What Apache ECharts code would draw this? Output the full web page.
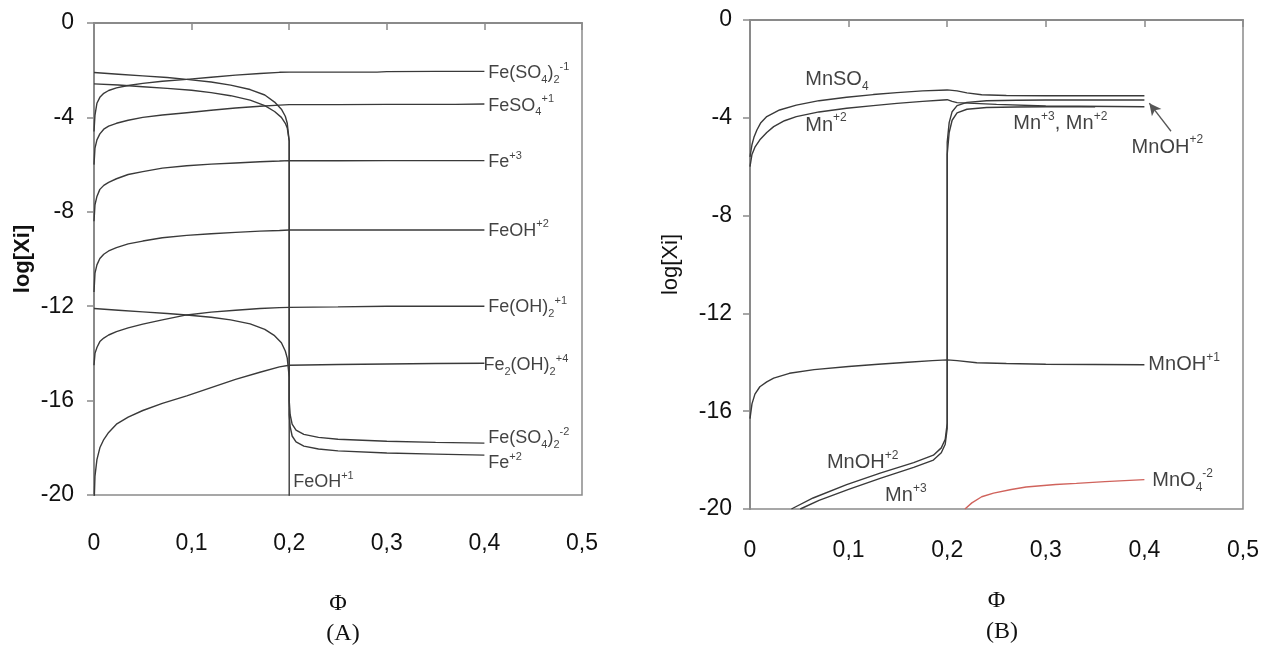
<!DOCTYPE html>
<html>
<head>
<meta charset="utf-8">
<script src="https://cdn.jsdelivr.net/npm/echarts@6/dist/echarts.min.js"></script>
<style>
html,body{margin:0;padding:0;background:#fff;}
#chart{width:1269px;height:648px;}
</style>
</head>
<body>
<div id="chart"></div>
<script>
// ---------- Panel A (Fe species) : [phi, log Xi] ----------
const feSO42m1 = [[0,-4.6],[0.001,-3.9],[0.003,-3.4],[0.006,-3.15],[0.01,-2.98],[0.015,-2.86],[0.023,-2.75],[0.035,-2.65],[0.05,-2.56],[0.07,-2.47],[0.095,-2.39],[0.12,-2.3],[0.145,-2.21],[0.17,-2.14],[0.19,-2.09],[0.2,-2.08],[0.25,-2.08],[0.29,-2.08],[0.3,-2.06],[0.35,-2.05],[0.4,-2.05]];
const feSO4p1 = [[0,-6.0],[0.001,-5.3],[0.003,-4.95],[0.006,-4.7],[0.01,-4.5],[0.015,-4.37],[0.023,-4.25],[0.035,-4.12],[0.05,-4.0],[0.07,-3.9],[0.095,-3.8],[0.12,-3.7],[0.145,-3.6],[0.17,-3.53],[0.19,-3.48],[0.2,-3.46],[0.25,-3.46],[0.3,-3.45],[0.37,-3.45],[0.4,-3.43]];
const fe3 = [[0,-8.4],[0.001,-7.7],[0.003,-7.35],[0.006,-7.05],[0.01,-6.88],[0.015,-6.75],[0.023,-6.6],[0.035,-6.42],[0.05,-6.3],[0.07,-6.15],[0.095,-6.05],[0.12,-5.98],[0.145,-5.93],[0.17,-5.88],[0.19,-5.85],[0.2,-5.83],[0.25,-5.84],[0.3,-5.83],[0.35,-5.83],[0.4,-5.83]];
const feOHp2 = [[0,-11.4],[0.001,-10.6],[0.003,-10.25],[0.006,-9.98],[0.01,-9.8],[0.015,-9.66],[0.023,-9.52],[0.035,-9.36],[0.05,-9.24],[0.07,-9.1],[0.095,-9.0],[0.12,-8.93],[0.145,-8.87],[0.17,-8.82],[0.19,-8.79],[0.2,-8.77],[0.25,-8.77],[0.3,-8.77],[0.35,-8.77],[0.4,-8.77]];
const feOH2p1 = [[0,-14.5],[0.001,-14.0],[0.003,-13.75],[0.006,-13.5],[0.01,-13.35],[0.015,-13.22],[0.023,-13.08],[0.035,-12.92],[0.05,-12.76],[0.07,-12.58],[0.095,-12.37],[0.12,-12.25],[0.145,-12.17],[0.17,-12.1],[0.19,-12.06],[0.2,-12.05],[0.25,-12.03],[0.3,-12.0],[0.35,-12.0],[0.4,-12.0]];
const fe2OH2p4 = [[0,-20.5],[0.001,-19.2],[0.003,-18.5],[0.006,-18.0],[0.01,-17.65],[0.015,-17.35],[0.023,-17.0],[0.035,-16.7],[0.05,-16.42],[0.07,-16.12],[0.095,-15.8],[0.12,-15.45],[0.145,-15.1],[0.17,-14.8],[0.19,-14.57],[0.2,-14.5],[0.25,-14.47],[0.3,-14.45],[0.35,-14.43],[0.4,-14.42]];
const feOHp1 = [[0,-12.1],[0.025,-12.17],[0.05,-12.24],[0.075,-12.31],[0.095,-12.37],[0.12,-12.47],[0.14,-12.58],[0.16,-12.75],[0.175,-12.98],[0.185,-13.25],[0.192,-13.55],[0.196,-13.9],[0.198,-14.2],[0.2,-15.0],[0.2,-21]];
const feSO42m2 = [[0,-2.1],[0.025,-2.17],[0.05,-2.24],[0.075,-2.31],[0.095,-2.39],[0.12,-2.5],[0.14,-2.63],[0.16,-2.82],[0.175,-3.05],[0.185,-3.35],[0.192,-3.65],[0.196,-3.95],[0.198,-4.25],[0.2,-5.0],[0.2,-16.0],[0.201,-16.6],[0.203,-17.0],[0.207,-17.25],[0.215,-17.43],[0.23,-17.56],[0.25,-17.64],[0.3,-17.72],[0.35,-17.77],[0.4,-17.8]];
const fe2 = [[0,-2.58],[0.025,-2.63],[0.05,-2.7],[0.075,-2.77],[0.1,-2.85],[0.12,-2.95],[0.14,-3.08],[0.16,-3.27],[0.175,-3.5],[0.185,-3.75],[0.192,-4.0],[0.196,-4.25],[0.198,-4.45],[0.2,-5.0],[0.2,-16.6],[0.201,-17.1],[0.203,-17.5],[0.207,-17.75],[0.215,-17.93],[0.23,-18.05],[0.25,-18.13],[0.3,-18.22],[0.35,-18.27],[0.4,-18.31]];

// ---------- Panel B (Mn species) ----------
const mnSO4 = [[0,-5.6],[0.002,-5.1],[0.004,-4.8],[0.007,-4.5],[0.011,-4.2],[0.017,-3.95],[0.03,-3.68],[0.047,-3.48],[0.07,-3.3],[0.098,-3.16],[0.125,-3.05],[0.149,-2.97],[0.175,-2.9],[0.2,-2.86],[0.21,-2.9],[0.22,-2.98],[0.235,-3.06],[0.26,-3.09],[0.3,-3.1],[0.4,-3.1]];
const mn2 = [[0,-6.0],[0.002,-5.5],[0.005,-5.2],[0.01,-4.9],[0.017,-4.6],[0.024,-4.36],[0.035,-4.12],[0.047,-3.95],[0.07,-3.76],[0.098,-3.61],[0.125,-3.5],[0.149,-3.41],[0.175,-3.33],[0.196,-3.27],[0.2,-3.26],[0.205,-3.33],[0.21,-3.38],[0.25,-3.45],[0.3,-3.52],[0.4,-3.55]];
const mnOHp2 = [[0.042,-20],[0.064,-19.55],[0.098,-19.0],[0.132,-18.53],[0.166,-18.1],[0.186,-17.8],[0.194,-17.5],[0.198,-17.15],[0.2,-16.5],[0.2,-5.0],[0.202,-4.2],[0.205,-3.75],[0.21,-3.5],[0.22,-3.37],[0.24,-3.3],[0.27,-3.28],[0.3,-3.27],[0.4,-3.27]];
const mn3 = [[0.051,-20],[0.07,-19.65],[0.1,-19.2],[0.132,-18.75],[0.166,-18.3],[0.186,-18.0],[0.194,-17.7],[0.198,-17.35],[0.2,-16.7],[0.2,-5.5],[0.202,-4.6],[0.205,-4.1],[0.21,-3.8],[0.22,-3.65],[0.24,-3.58],[0.27,-3.56],[0.3,-3.55],[0.35,-3.55]];
const mnOHp1 = [[0,-16.3],[0.002,-15.7],[0.005,-15.3],[0.01,-15.0],[0.017,-14.8],[0.024,-14.65],[0.04,-14.45],[0.065,-14.3],[0.1,-14.17],[0.13,-14.08],[0.16,-14.0],[0.185,-13.93],[0.2,-13.9],[0.21,-13.93],[0.23,-14.02],[0.26,-14.05],[0.3,-14.08],[0.4,-14.1]];
const mnO4m2 = [[0.218,-20],[0.225,-19.75],[0.235,-19.5],[0.247,-19.35],[0.265,-19.2],[0.28,-19.1],[0.31,-19.0],[0.331,-18.95],[0.36,-18.88],[0.4,-18.8]];

// ---------- Labels: [phi, logXi, rich text] ----------
const labelsA = [
  [0.402,-2.12,'Fe(SO{b|4}){b|2}{p|-1}'],
  [0.402,-3.5,'FeSO{b|4}{p|+1}'],
  [0.402,-5.9,'Fe{p|+3}'],
  [0.402,-8.8,'FeOH{p|+2}'],
  [0.402,-12.05,'Fe(OH){b|2}{p|+1}'],
  [0.397,-14.5,'Fe{b|2}(OH){b|2}{p|+4}'],
  [0.402,-17.6,'Fe(SO{b|4}){b|2}{p|-2}'],
  [0.402,-18.65,'Fe{p|+2}'],
  [0.202,-19.45,'FeOH{p|+1}']
];
const labelsB = [
  [0.054,-2.45,'MnSO{b|4}'],
  [0.054,-4.3,'Mn{p|+2}'],
  [0.265,-4.25,'Mn{p|+3}, Mn{p|+2}'],
  [0.385,-5.2,'MnOH{p|+2}'],
  [0.402,-14.1,'MnOH{p|+1}'],
  [0.406,-18.85,'MnO{b|4}{p|-2}'],
  [0.076,-18.1,'MnOH{p|+2}'],
  [0.135,-19.45,'Mn{p|+3}']
];
const arrowB = [[0.427,-4.55],[0.405,-3.4]];

const xTickFmt = v => (v === 0 ? '0' : v.toFixed(1).replace('.', ','));
const lineCol = '#3a3a3a';
const axisCol = '#8a8a8a';
const textCol = '#111111';

function axisX(gi, nameGap, labelMargin){
  return {type:'value', gridIndex:gi, min:0, max:0.5, interval:0.1,
    name:'Φ', nameLocation:'middle', nameGap:nameGap,
    nameTextStyle:{fontFamily:'Liberation Serif', fontSize:24, color:textCol},
    axisLine:{lineStyle:{color:axisCol, width:2}},
    axisTick:{inside:false, length:7, lineStyle:{color:axisCol, width:1.5}},
    splitLine:{show:false},
    axisLabel:{formatter:xTickFmt, fontFamily:'Liberation Sans', fontSize:23, color:textCol, margin:labelMargin}};
}
function axisY(gi, bold, nameGap, labelMargin){
  return {type:'value', gridIndex:gi, min:-20, max:0, interval:4,
    name:'log[Xi]', nameLocation:'middle', nameGap:nameGap,
    nameTextStyle:{fontFamily:'Liberation Sans', fontSize:22, fontWeight: bold?'bold':'normal', color:textCol},
    axisLine:{lineStyle:{color:axisCol, width:2}},
    axisTick:{inside:false, length:7, lineStyle:{color:axisCol, width:1.5}},
    splitLine:{show:false},
    axisLabel:{fontFamily:'Liberation Sans', fontSize:23, color:textCol, margin:labelMargin}};
}
function ln(data, gi, color){
  return {type:'line', xAxisIndex:gi, yAxisIndex:gi, data:data, showSymbol:false, symbol:'none',
    clip:true, silent:true, lineStyle:{color:color||lineCol, width:1.4}, z:3};
}
function labelSeries(list, gi, fs){
  return {type:'scatter', xAxisIndex:gi, yAxisIndex:gi, symbolSize:0, silent:true, z:5,
    data:list.map(d => ({value:[d[0], d[1]], label:{formatter:d[2]}})),
    label:{show:true, position:'right', distance:2, fontFamily:'Liberation Sans', fontSize:fs,
      color:textCol, lineHeight:fs+6,
      rich:{
        b:{fontSize:Math.round(fs*0.62), lineHeight:Math.round(fs*0.62), verticalAlign:'bottom', fontFamily:'Liberation Sans', color:textCol},
        p:{fontSize:Math.round(fs*0.62), lineHeight:Math.round(fs*0.62), verticalAlign:'top', fontFamily:'Liberation Sans', color:textCol}
      }}};
}

const chart = echarts.init(document.getElementById('chart'), null, {renderer:'canvas'});
const arrowSeries = ln([], 1);
arrowSeries.markLine = {silent:true, symbol:['none','arrow'], symbolSize:[9,12],
  label:{show:false}, lineStyle:{color:'#555555', width:1.3, type:'solid'},
  data:[[{coord:arrowB[0]},{coord:arrowB[1]}]]};

chart.setOption({
  animation:false,
  backgroundColor:'#ffffff',
  grid:[
    {left:94, top:23, width:488, height:472, show:true, borderColor:axisCol, borderWidth:1.5, backgroundColor:'transparent'},
    {left:750, top:20, width:493, height:489, show:true, borderColor:axisCol, borderWidth:1.5, backgroundColor:'transparent'}
  ],
  xAxis:[axisX(0, 97, 37), axisX(1, 80, 30)],
  yAxis:[axisY(0, true, 60, 20), axisY(1, false, 68, 18)],
  title:[
    {text:'(A)', left:338, top:617, textAlign:'center', textStyle:{fontFamily:'Liberation Serif', fontSize:24, fontWeight:'normal', color:textCol}},
    {text:'(B)', left:997, top:615, textAlign:'center', textStyle:{fontFamily:'Liberation Serif', fontSize:24, fontWeight:'normal', color:textCol}}
  ],
  series:[
    ln(feSO42m1,0), ln(feSO4p1,0), ln(fe3,0), ln(feOHp2,0), ln(feOH2p1,0), ln(fe2OH2p4,0),
    ln(feOHp1,0), ln(feSO42m2,0), ln(fe2,0),
    ln(mnSO4,1), ln(mn2,1), ln(mnOHp2,1), ln(mn3,1), ln(mnOHp1,1), ln(mnO4m2,1,'#d0635c'),
    arrowSeries,
    labelSeries(labelsA, 0, 18),
    labelSeries(labelsB, 1, 20)
  ]
});
</script>
</body>
</html>
